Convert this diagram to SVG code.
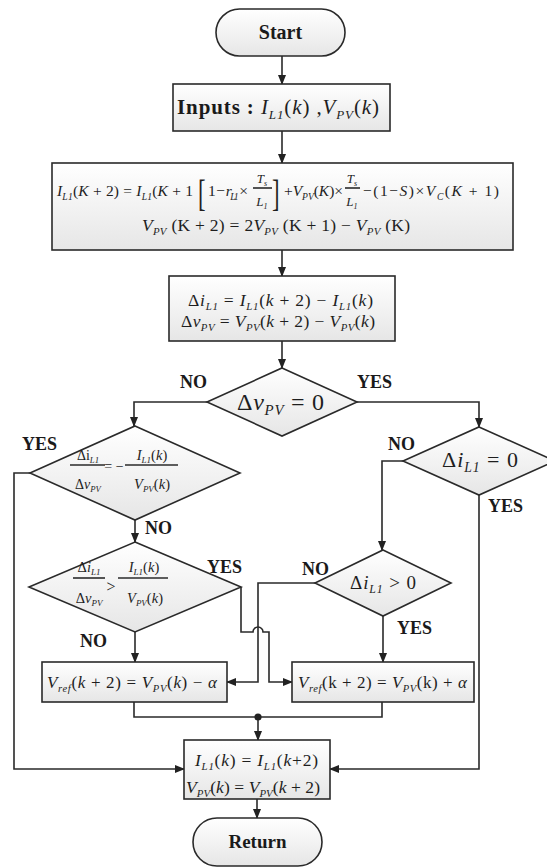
<svg xmlns="http://www.w3.org/2000/svg" width="547" height="868" viewBox="0 0 547 868">
<defs>
<linearGradient id="g" x1="0" y1="0" x2="0" y2="1">
<stop offset="0" stop-color="#ffffff"/>
<stop offset="1" stop-color="#e6e6e6"/>
</linearGradient>
<marker id="ah" markerWidth="10" markerHeight="10" refX="9" refY="5" orient="auto" markerUnits="userSpaceOnUse">
<path d="M0,1 L10,5 L0,9 Z" fill="#222"/>
</marker>
<style>
.sh{fill:url(#g);stroke:#2a2a2a;stroke-width:1.6}
.c{fill:none;stroke:#2a2a2a;stroke-width:1.6}
.ca{fill:none;stroke:#2a2a2a;stroke-width:1.6;marker-end:url(#ah)}
.b{font-family:"Liberation Serif",serif;font-weight:bold;fill:#1a1a1a}
.m{font-family:"Liberation Serif",serif;fill:#1e1e1e}
.i{font-style:italic}
.s{font-style:italic;font-size:0.62em}
</style>
</defs>
<rect width="547" height="868" fill="#ffffff"/>

<g id="connectors">
<path class="ca" d="M282,56 V84"/>
<path class="ca" d="M282,131 V163"/>
<path class="ca" d="M282,250 V276"/>
<path class="ca" d="M282,341 V368"/>
<path class="ca" d="M207,402 H134 V426"/>
<path class="ca" d="M357,402 H479 V427"/>
<path class="ca" d="M30,473 H14 V769 H184"/>
<path class="ca" d="M135,520 V542"/>
<path class="ca" d="M241,587 V632 H253 A5,5 0 0 1 263,632 H269 V682 H292"/>
<path class="ca" d="M135,632 V662"/>
<path class="ca" d="M403,461 H382 V550"/>
<path class="ca" d="M479,495 V769 H330"/>
<path class="ca" d="M315,583 H258 V682 H227"/>
<path class="ca" d="M383,616 V662"/>
<path class="c" d="M134,702 V717 H382 V702"/>
<path class="ca" d="M258,717 V740"/>
<path class="ca" d="M257,799 V818"/>
<circle cx="258" cy="717" r="3.6" fill="#222"/>
</g>

<g id="start">
<rect class="sh" x="216" y="9" width="129" height="47" rx="23.5"/>
<text class="b" x="280.5" y="39" font-size="20" text-anchor="middle">Start</text>
</g>

<g id="inputs">
<rect class="sh" x="173" y="84" width="217" height="47"/>
<text class="m" x="177" y="114" font-size="21" textLength="202" lengthAdjust="spacing"><tspan class="b">Inputs :</tspan> <tspan class="i">I</tspan><tspan class="s" dy="5">L1</tspan><tspan dy="-5">(</tspan><tspan class="i">k</tspan>) ,<tspan class="i">V</tspan><tspan class="s" dy="5">PV</tspan><tspan dy="-5">(</tspan><tspan class="i">k</tspan>)</text>
</g>

<g id="model">
<rect class="sh" x="52" y="163" width="461" height="87"/>
<text class="m" x="57" y="196" font-size="15.5" textLength="136" lengthAdjust="spacing"><tspan class="i">I</tspan><tspan class="s" dy="4">L1</tspan><tspan dy="-4">(</tspan><tspan class="i">K</tspan> + 2) = <tspan class="i">I</tspan><tspan class="s" dy="4">L1</tspan><tspan dy="-4">(</tspan><tspan class="i">K</tspan> + 1</text>
<text class="m" x="198" y="206" font-size="38" transform="translate(198 206) scale(0.6 1) translate(-198 -206)">[</text>
<text class="m" x="208" y="196" font-size="15.5" textLength="40" lengthAdjust="spacing">1 − <tspan class="i">r</tspan><tspan class="s" dy="4">L1</tspan><tspan dy="-4"> ×</tspan></text>
<text class="m" x="262" y="183" font-size="13" text-anchor="middle"><tspan class="i">T</tspan><tspan class="s" dy="3">s</tspan></text>
<line class="c" x1="253" y1="188" x2="272" y2="188" stroke-width="1"/>
<text class="m" x="262" y="206" font-size="13" text-anchor="middle"><tspan class="i">L</tspan><tspan class="s" dy="3">1</tspan></text>
<text class="m" x="272" y="206" font-size="38" transform="translate(272 206) scale(0.6 1) translate(-272 -206)">]</text>
<text class="m" x="284" y="196" font-size="15.5" textLength="59" lengthAdjust="spacing">+<tspan class="i">V</tspan><tspan class="s" dy="4">PV</tspan><tspan dy="-4">(</tspan><tspan class="i">K</tspan>)×</text>
<text class="m" x="352" y="183" font-size="13" text-anchor="middle"><tspan class="i">T</tspan><tspan class="s" dy="3">s</tspan></text>
<line class="c" x1="345" y1="188" x2="360" y2="188" stroke-width="1"/>
<text class="m" x="352" y="206" font-size="13" text-anchor="middle"><tspan class="i">L</tspan><tspan class="s" dy="3">1</tspan></text>
<text class="m" x="363" y="196" font-size="15.5" textLength="136" lengthAdjust="spacing">−(1−<tspan class="i">S</tspan>)×<tspan class="i">V</tspan><tspan class="s" dy="4">C</tspan><tspan dy="-4">(</tspan><tspan class="i">K</tspan> + 1)</text>
<text class="m" x="142" y="231" font-size="17.5" textLength="268" lengthAdjust="spacing"><tspan class="i">V</tspan><tspan class="s" dy="4">PV</tspan><tspan dy="-4"> (K + 2) = 2</tspan><tspan class="i">V</tspan><tspan class="s" dy="4">PV</tspan><tspan dy="-4"> (K + 1) − </tspan><tspan class="i">V</tspan><tspan class="s" dy="4">PV</tspan><tspan dy="-4"> (K)</tspan></text>
</g>

<g id="deltas">
<rect class="sh" x="169" y="276" width="226" height="65"/>
<text class="m" x="188" y="306" font-size="17.5" textLength="185" lengthAdjust="spacing">Δ<tspan class="i">i</tspan><tspan class="s" dy="4">L1</tspan><tspan dy="-4"> = </tspan><tspan class="i">I</tspan><tspan class="s" dy="4">L1</tspan><tspan dy="-4">(</tspan><tspan class="i">k</tspan> + 2) − <tspan class="i">I</tspan><tspan class="s" dy="4">L1</tspan><tspan dy="-4">(</tspan><tspan class="i">k</tspan>)</text>
<text class="m" x="181" y="327" font-size="17.5" textLength="194" lengthAdjust="spacing">Δ<tspan class="i">v</tspan><tspan class="s" dy="4">PV</tspan><tspan dy="-4"> = </tspan><tspan class="i">V</tspan><tspan class="s" dy="4">PV</tspan><tspan dy="-4">(</tspan><tspan class="i">k</tspan> + 2) − <tspan class="i">V</tspan><tspan class="s" dy="4">PV</tspan><tspan dy="-4">(</tspan><tspan class="i">k</tspan>)</text>
</g>

<g id="dec-dv">
<path class="sh" d="M282,368 L357,402 L282,436 L207,402 Z"/>
<text class="m" x="237" y="410" font-size="24" textLength="87" lengthAdjust="spacing">Δ<tspan class="i">v</tspan><tspan class="s" dy="5">PV</tspan><tspan dy="-5"> = 0</tspan></text>
<text class="b" x="180" y="388" font-size="18">NO</text>
<text class="b" x="357" y="388" font-size="18">YES</text>
</g>

<g id="dec-eq">
<path class="sh" d="M135,426 L240,473 L135,520 L30,473 Z"/>
<text class="m" x="88" y="460" font-size="14" text-anchor="middle">Δi<tspan class="s" dy="3">L1</tspan></text>
<line class="c" x1="70" y1="465" x2="105" y2="465" stroke-width="1"/>
<text class="m" x="88" y="489" font-size="14" text-anchor="middle">Δ<tspan class="i">v</tspan><tspan class="s" dy="3">PV</tspan></text>
<text class="m" x="114" y="471" font-size="14" text-anchor="middle">= −</text>
<text class="m" x="152" y="460" font-size="14.5" text-anchor="middle"><tspan class="i">I</tspan><tspan class="s" dy="3">L1</tspan><tspan dy="-3">(</tspan><tspan class="i">k</tspan>)</text>
<line class="c" x1="125" y1="465" x2="178" y2="465" stroke-width="1"/>
<text class="m" x="152" y="489" font-size="14.5" text-anchor="middle"><tspan class="i">V</tspan><tspan class="s" dy="3">PV</tspan><tspan dy="-3">(</tspan><tspan class="i">k</tspan>)</text>
<text class="b" x="22" y="450" font-size="18">YES</text>
<text class="b" x="145" y="534" font-size="18">NO</text>
</g>

<g id="dec-gt">
<path class="sh" d="M135,542 L241,587 L135,632 L29,587 Z"/>
<text class="m" x="89" y="572" font-size="14.5" text-anchor="middle">Δ<tspan class="i">i</tspan><tspan class="s" dy="3">L1</tspan></text>
<line class="c" x1="73" y1="578" x2="105" y2="578" stroke-width="1"/>
<text class="m" x="89" y="603" font-size="14.5" text-anchor="middle">Δ<tspan class="i">v</tspan><tspan class="s" dy="3">PV</tspan></text>
<text class="m" x="111" y="592" font-size="16" text-anchor="middle">&gt;</text>
<text class="m" x="144" y="572" font-size="14.5" text-anchor="middle"><tspan class="i">I</tspan><tspan class="s" dy="3">L1</tspan><tspan dy="-3">(</tspan><tspan class="i">k</tspan>)</text>
<line class="c" x1="118" y1="578" x2="168" y2="578" stroke-width="1"/>
<text class="m" x="145" y="603" font-size="14.5" text-anchor="middle"><tspan class="i">V</tspan><tspan class="s" dy="3">PV</tspan><tspan dy="-3">(</tspan><tspan class="i">k</tspan>)</text>
<text class="b" x="207" y="573" font-size="18">YES</text>
<text class="b" x="80" y="647" font-size="18">NO</text>
</g>

<g id="dec-di0">
<path class="sh" d="M479,427 L555,461 L479,495 L403,461 Z"/>
<text class="m" x="442" y="467" font-size="22" textLength="76" lengthAdjust="spacing">Δ<tspan class="i">i</tspan><tspan class="s" dy="5">L1</tspan><tspan dy="-5"> = 0</tspan></text>
<text class="b" x="388" y="450" font-size="18">NO</text>
<text class="b" x="488" y="512" font-size="18">YES</text>
</g>

<g id="dec-dipos">
<path class="sh" d="M383,550 L451,583 L383,616 L315,583 Z"/>
<text class="m" x="350" y="589" font-size="19" textLength="66" lengthAdjust="spacing">Δ<tspan class="i">i</tspan><tspan class="s" dy="4">L1</tspan><tspan dy="-4"> &gt; 0</tspan></text>
<text class="b" x="302" y="575" font-size="18">NO</text>
<text class="b" x="397" y="634" font-size="18">YES</text>
</g>

<g id="dec-minus">
<rect class="sh" x="42" y="662" width="185" height="40"/>
<text class="m" x="47" y="688" font-size="17" textLength="170" lengthAdjust="spacing"><tspan class="i">V</tspan><tspan class="s" dy="4">ref</tspan><tspan dy="-4">(</tspan><tspan class="i">k</tspan> + 2) = <tspan class="i">V</tspan><tspan class="s" dy="4">PV</tspan><tspan dy="-4">(</tspan><tspan class="i">k</tspan>) − <tspan class="i">α</tspan></text>
</g>

<g id="inc-plus">
<rect class="sh" x="292" y="662" width="182" height="40"/>
<text class="m" x="298" y="688" font-size="17" textLength="169" lengthAdjust="spacing"><tspan class="i">V</tspan><tspan class="s" dy="4">ref</tspan><tspan dy="-4">(k + 2) = </tspan><tspan class="i">V</tspan><tspan class="s" dy="4">PV</tspan><tspan dy="-4">(k) + </tspan><tspan class="i">α</tspan></text>
</g>

<g id="update">
<rect class="sh" x="184" y="740" width="146" height="59"/>
<text class="m" x="195" y="766" font-size="17.5" textLength="123" lengthAdjust="spacing"><tspan class="i">I</tspan><tspan class="s" dy="4">L1</tspan><tspan dy="-4">(</tspan><tspan class="i">k</tspan>) = <tspan class="i">I</tspan><tspan class="s" dy="4">L1</tspan><tspan dy="-4">(</tspan><tspan class="i">k</tspan>+2)</text>
<text class="m" x="186" y="793" font-size="17.5" textLength="134" lengthAdjust="spacing"><tspan class="i">V</tspan><tspan class="s" dy="4">PV</tspan><tspan dy="-4">(</tspan><tspan class="i">k</tspan>) = <tspan class="i">V</tspan><tspan class="s" dy="4">PV</tspan><tspan dy="-4">(</tspan><tspan class="i">k</tspan> + 2)</text>
</g>

<g id="return">
<rect class="sh" x="193" y="818" width="129" height="48" rx="24"/>
<text class="b" x="257.5" y="848" font-size="19" text-anchor="middle">Return</text>
</g>
</svg>
